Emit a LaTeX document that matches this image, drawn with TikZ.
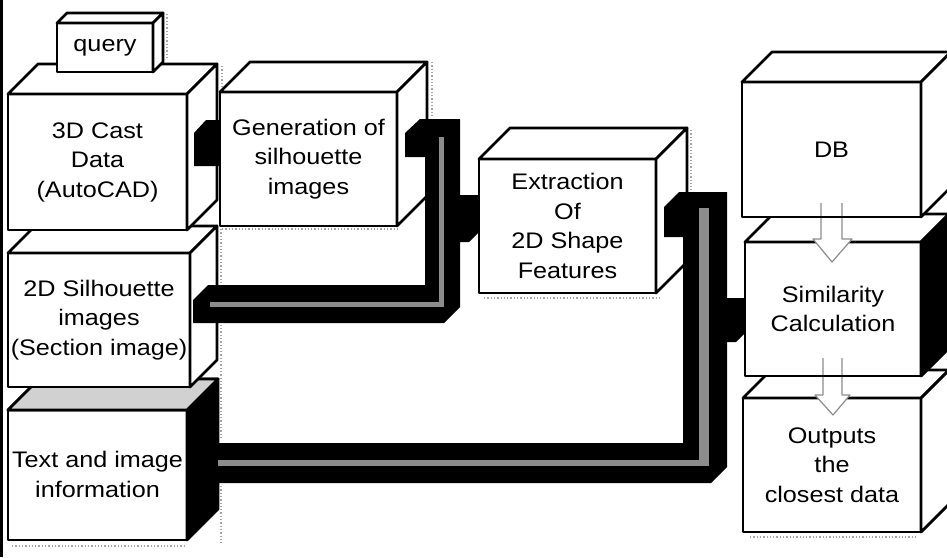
\documentclass[tikz,border=0pt]{standalone}
\usepackage{fontspec}
\setmainfont[FakeStretch=1.12]{Liberation Sans}
\usetikzlibrary{calc}

\tikzset{
  edge/.style={line width=2.8pt, line join=round},
  front/.style={edge, draw=black, fill=white, outer sep=0pt, inner sep=0pt,
    align=center, font=\fontsize{22.5}{29.5}\selectfont},
  side/.style={edge, draw=black, fill=white},
  bar/.style={fill=black},
  stripe/.style={fill=black!45},
  shadowline/.style={draw=black!35, dotted, line width=1.3pt},
  hollowline/.style={draw=black!45, line width=1.2pt, line join=round},
}

% 3D block: [right-face fill]{name}{x}{y}{width}{height}{depth}{text}
\newcommand{\blockthree}[8][white]{%
  \node[front, minimum width=#5pt, minimum height=#6pt] (#2) at (#3,#4) {#8};
  \draw[side] (#2.north west) -- ++(#7,-#7) -- ($(#2.north east)+(#7,-#7)$)
    -- (#2.north east) -- cycle;
  \draw[side, fill=#1] (#2.north east) -- ++(#7,-#7)
    -- ($(#2.south east)+(#7,-#7)$) -- (#2.south east) -- cycle;
}

\begin{document}
\begin{tikzpicture}[x=1pt, y=-1pt]
\useasboundingbox (0,0) rectangle (947,557);

% faint shadow edges
\draw[shadowline] (167,14) -- (167,60);
\draw[shadowline] (222,66) -- (222,90);
\draw[shadowline] (432,62) -- (432,116);
\draw[shadowline] (691,130) -- (691,190);
\draw[shadowline] (222,229) -- (400,229);
\draw[shadowline] (221,229) -- (221,440);
\draw[shadowline] (221,486) -- (221,545);
\draw[shadowline] (484,298) -- (662,298);
\draw[shadowline] (12,546) -- (185,546);
\draw[shadowline] (750,537) -- (918,537);

% left column
\blockthree[black]{txt}{97.5}{475}{179}{130}{31}{\\[-14pt]Text and image\\information}
\draw[side, fill=black!18] (txt.north west) -- ++(31,-31)
  -- ($(txt.north east)+(31,-31)$) -- (txt.north east) -- cycle;
\blockthree{sil}{99}{320}{182}{134}{27}{2D Silhouette\\images\\(Section image)}
\blockthree{cast}{97.5}{162}{179}{136}{30}{3D Cast\\Data\\(AutoCAD)}
\blockthree{query}{105}{47.5}{96}{49}{10}{query}

% middle
\blockthree{gen}{308.5}{159}{177}{134}{30}{Generation of\\silhouette\\images}
\blockthree{ext}{567.5}{226}{177}{134}{31}{Extraction\\Of\\2D Shape\\Features}

% right column
\blockthree{out}{832}{465}{178}{134}{28}{Outputs\\the\\closest data}
\blockthree[black]{sim}{833}{309}{176}{134}{28}{Similarity\\Calculation}
\blockthree{db}{831.5}{149.5}{179}{135}{30}{DB}

% bar: 3D cast data -> silhouette generation
\fill[bar] ($(cast.north east)+(7,39)$) -- ++(12,-13)
  -- ($(gen.north west)+(0,28)$) -- ($(gen.north west)+(0,74)$)
  -- ($(cast.north east)+(7,72)$) -- cycle;

% bar: silhouette images -> shape feature extraction
\fill[bar] ($(sil.south east)+(3,-87)$) -- ++(15,-15) -- (425,285) -- (425,157)
  -- (405,157) -- (405,133) -- (420,119) -- (460,119) -- (460,195)
  -- ($(ext.north west)+(0,36)$) -- ($(ext.north west)+(0,73)$) -- ++(-10,10)
  -- (460,242) -- (460,307) -- (444,323) -- ($(sil.south east)+(3,-64)$) -- cycle;
\fill[stripe] (439,137) rectangle (444,307);
\fill[stripe] (210,302) rectangle (444,307);

% bar: text information + features -> similarity calculation
\fill[bar] ($(txt.south east)+(31,-97)$) -- (683,443) -- (683,237) -- (664,237)
  -- (664,207) -- (679,192) -- (727,192) -- (727,298)
  -- ($(sim.north west)+(0,56)$) -- ($(sim.north west)+(0,91)$) -- ++(-9,9)
  -- (727,342) -- (727,467) -- (711,483) -- ($(txt.south east)+(31,-57)$) -- cycle;
\fill[stripe] (699,208) rectangle (709,466);
\fill[stripe] (218,460) rectangle (709,466);

% hollow arrow: DB -> similarity
\fill[white] ($(db.south)+(-10.5,-14)$) -- ($(db.south)+(10.5,-14)$)
  -- ($(sim.north)+(9,-3)$) -- ($(sim.north)+(19,-3)$) -- ($(sim.north)+(-1,20)$)
  -- ($(sim.north)+(-20,-3)$) -- ($(sim.north)+(-12,-3)$) -- cycle;
\draw[hollowline] ($(db.south)+(10.5,-14)$) -- ($(sim.north)+(9,-3)$)
  -- ($(sim.north)+(19,-3)$) -- ($(sim.north)+(-1,20)$)
  -- ($(sim.north)+(-20,-3)$) -- ($(sim.north)+(-12,-3)$) -- ($(db.south)+(-10.5,-14)$);
\draw[edge] (db.south west) -- (db.south east);

% hollow arrow: similarity -> output
\fill[white] ($(sim.south)+(-10,-18)$) -- ($(sim.south)+(9,-18)$)
  -- ($(out.north)+(10,-3)$) -- ($(out.north)+(18,-3)$) -- ($(out.north)+(1,17)$)
  -- ($(out.north)+(-17,-3)$) -- ($(out.north)+(-9,-3)$) -- cycle;
\draw[hollowline] ($(sim.south)+(9,-18)$) -- ($(out.north)+(10,-3)$)
  -- ($(out.north)+(18,-3)$) -- ($(out.north)+(1,17)$)
  -- ($(out.north)+(-17,-3)$) -- ($(out.north)+(-9,-3)$) -- ($(sim.south)+(-10,-18)$);
\draw[edge] (sim.south west) -- (sim.south east);

% page rule on the left
\fill[black] (0,0) rectangle (2.5,557);
\end{tikzpicture}
\end{document}
